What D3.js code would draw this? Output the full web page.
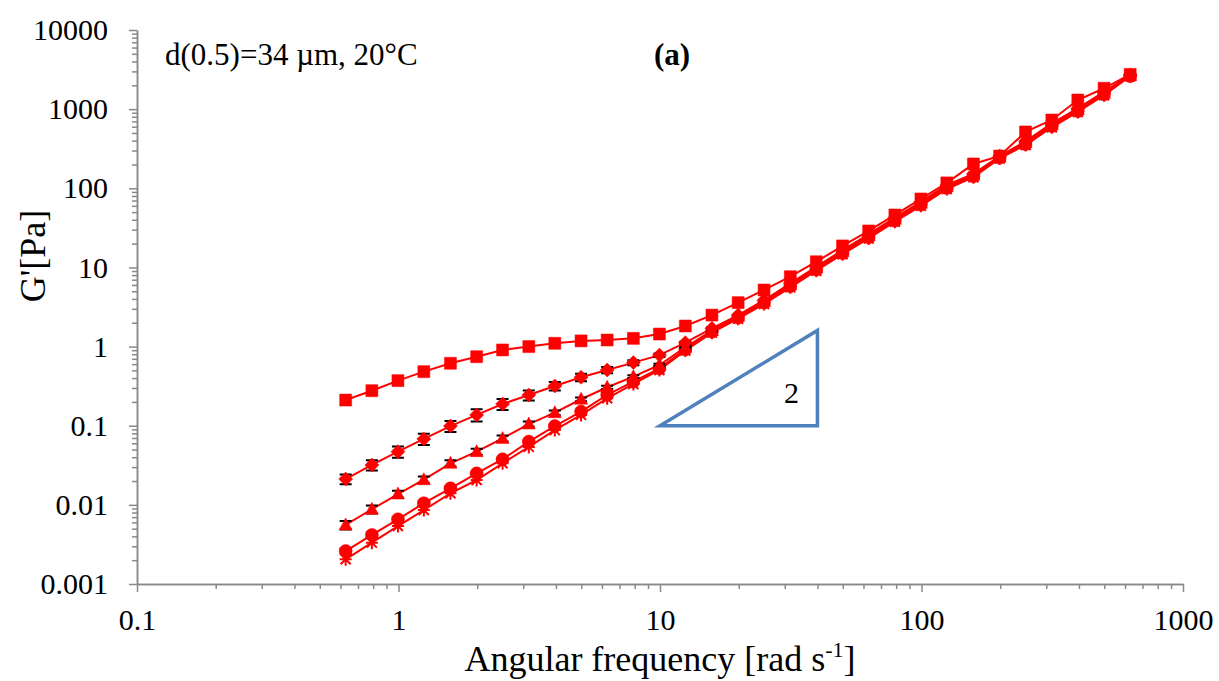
<!DOCTYPE html>
<html>
<head>
<meta charset="utf-8">
<script src="https://cdn.jsdelivr.net/npm/d3@7"></script>
<style>
body { margin: 0; background: #fff; }
</style>
</head>
<body>
<script>
var width = 1219,
    height = 681;
var plot = { left: 137, right: 1183, top: 30, bottom: 584 };
var serif = "Liberation Serif";

// angular frequency [rad/s]
var freq = [0.628, 0.791, 0.995, 1.25, 1.58, 1.99, 2.5, 3.15, 3.96, 4.99,
            6.28, 7.91, 9.95, 12.5, 15.8, 19.9, 25, 31.5, 39.6, 49.9,
            62.8, 79.1, 99.5, 125, 158, 199, 250, 315, 396, 499, 628];

// G' [Pa] for each sample
var gSquare = [0.211, 0.277, 0.371, 0.482, 0.615, 0.745, 0.906, 1.0, 1.10, 1.18,
               1.21, 1.27, 1.44, 1.82, 2.5, 3.59, 5.19, 7.64, 11.8, 18.7,
               28.9, 46.0, 73.3, 117, 203, 256, 515, 729, 1305, 1836, 2750];
var gDiamond = [0.0212, 0.0319, 0.047, 0.068, 0.099, 0.137, 0.188, 0.244, 0.318, 0.41,
                0.506, 0.627, 0.78, 1.12, 1.7, 2.5, 3.85, 6.3, 10.2, 16.5,
                26.2, 42.5, 67.5, 110, 152, 255, 392, 660, 1020, 1650, 2700];
var gTriangle = [0.00557, 0.0088, 0.0137, 0.0208, 0.0335, 0.047, 0.069, 0.105, 0.146, 0.216,
                 0.306, 0.417, 0.585, 0.98, 1.59, 2.4, 3.7, 6.0, 9.8, 15.8,
                 25.0, 40.6, 64.7, 105, 147, 249, 374, 631, 977, 1585, 2650];
var gCircle = [0.00261, 0.00417, 0.00657, 0.0105, 0.0162, 0.025, 0.0377, 0.063, 0.099, 0.151,
               0.245, 0.36, 0.53, 0.92, 1.54, 2.32, 3.58, 5.8, 9.4, 15.2,
               24.0, 39.0, 62.0, 101, 142, 243, 362, 610, 945, 1540, 2620];
var gStar = [0.00205, 0.00333, 0.0054, 0.0086, 0.014, 0.0206, 0.0335, 0.054, 0.088, 0.137,
             0.222, 0.337, 0.506, 0.89, 1.5, 2.25, 3.45, 5.6, 9.1, 14.7,
             23.2, 37.8, 60.0, 98, 138, 238, 352, 590, 920, 1500, 2600];

// standard deviations (error bars)
var sdDiamond = [0.003, 0.0048, 0.0075, 0.011, 0.016, 0.024, 0.030, 0.035, 0.040, 0.045,
                 0.045, 0.045, 0.04, 0.04, 0.05, 0, 0, 0, 0, 0, 0, 0, 0, 0, 0, 0, 0, 0, 0, 0, 0];
var sdTriangle = [0.0007, 0.001, 0.0014, 0.002, 0.003, 0.004, 0.006, 0.008, 0.01, 0.012,
                  0.014, 0.016, 0.02, 0.03, 0.04, 0, 0, 0, 0, 0, 0, 0, 0, 0, 0, 0, 0, 0, 0, 0, 0];
var sdCircle = [0.0002, 0.0003, 0.0004, 0.0006, 0.0008, 0.001, 0.0015, 0.002, 0.003, 0.004,
                0.006, 0.008, 0.01, 0.02, 0.03, 0, 0, 0, 0, 0, 0, 0, 0, 0, 0, 0, 0, 0, 0, 0, 0];

var xTicks = [0.1, 1, 10, 100, 1000];
var yTicks = [0.001, 0.01, 0.1, 1, 10, 100, 1000, 10000];
var slopeTri = [[10, 0.1], [40, 0.1], [40, 1.6]];

var series = [
    { values: gStar, sd: null, marker: "star" },
    { values: gCircle, sd: sdCircle, marker: "circle" },
    { values: gTriangle, sd: sdTriangle, marker: "triangle" },
    { values: gDiamond, sd: sdDiamond, marker: "diamond" },
    { values: gSquare, sd: null, marker: "square" }
];

function minors(lo, hi) {
    var out = [];
    for (var d = lo; d < hi; d++) {
        for (var k = 2; k <= 9; k++) out.push(k * Math.pow(10, d));
    }
    return out;
}

var markerPath = {
    square: "M-6,-6H6V6H-6Z",
    diamond: "M0,-7L7,0L0,7L-7,0Z",
    triangle: "M0,-7L6.5,5L-6.5,5Z",
    circle: "M6.5,0A6.5,6.5 0 1,1 -6.5,0A6.5,6.5 0 1,1 6.5,0Z",
    star: "M-5,-5L5,5M-5,5L5,-5M0,-6.5L0,6.5M-6,0L6,0"
};

var svg = d3.select("body").append("svg")
    .attr("width", width)
    .attr("height", height)
    .attr("font-family", serif);

var x = d3.scaleLog().domain([0.1, 1000]).range([plot.left, plot.right]);
var y = d3.scaleLog().domain([0.001, 10000]).range([plot.bottom, plot.top]);

// axes: minor ticks first, then major with labels
var axisColor = "#898989";
svg.append("g")
    .attr("transform", "translate(0," + plot.bottom + ")")
    .call(d3.axisBottom(x).tickValues(minors(-1, 3)).tickSize(5).tickSizeOuter(0).tickFormat(""));
svg.append("g")
    .attr("transform", "translate(0," + plot.bottom + ")")
    .call(d3.axisBottom(x).tickValues(xTicks).tickSize(8).tickSizeOuter(0).tickPadding(17)
        .tickFormat(function (d) { return String(d); }));
svg.append("g")
    .attr("transform", "translate(" + plot.left + ",0)")
    .call(d3.axisLeft(y).tickValues(minors(-3, 4)).tickSize(5).tickSizeOuter(0).tickFormat(""));
svg.append("g")
    .attr("transform", "translate(" + plot.left + ",0)")
    .call(d3.axisLeft(y).tickValues(yTicks).tickSize(8).tickSizeOuter(0).tickPadding(21)
        .tickFormat(function (d) { return String(d); }));

svg.selectAll("g").attr("font-family", serif);
svg.selectAll(".domain, .tick line")
    .attr("stroke", axisColor)
    .attr("stroke-width", 1.5);
svg.selectAll(".tick text")
    .attr("font-size", 30)
    .attr("fill", "#000");

// slope triangle
svg.append("path")
    .attr("d", d3.line().x(function (d) { return x(d[0]); }).y(function (d) { return y(d[1]); })(slopeTri) + "Z")
    .attr("fill", "none")
    .attr("stroke", "#4F81BD")
    .attr("stroke-width", 3.5);
svg.append("text")
    .attr("x", x(31.8))
    .attr("y", y(0.26))
    .attr("dy", "0.35em")
    .attr("text-anchor", "middle")
    .attr("font-size", 30)
    .text("2");

var line = d3.line()
    .x(function (d) { return x(d[0]); })
    .y(function (d) { return y(d[1]); });

series.forEach(function (s) {
    var pts = freq.map(function (f, i) { return [f, s.values[i]]; });
    var g = svg.append("g");
    g.append("path")
        .attr("d", line(pts))
        .attr("fill", "none")
        .attr("stroke", "#FF0000")
        .attr("stroke-width", 2);
    if (s.sd) {
        pts.forEach(function (p, i) {
            var sd = s.sd[i];
            if (!sd) return;
            var cx = x(p[0]), y1 = y(p[1] + sd), y2 = y(Math.max(p[1] - sd, 1e-6));
            g.append("path")
                .attr("d", "M" + cx + "," + y1 + "V" + y2 +
                    "M" + (cx - 6) + "," + y1 + "H" + (cx + 6) +
                    "M" + (cx - 6) + "," + y2 + "H" + (cx + 6))
                .attr("stroke", "#000")
                .attr("stroke-width", 2)
                .attr("fill", "none");
        });
    }
    g.selectAll("path.mk")
        .data(pts)
        .enter().append("path")
        .attr("class", "mk")
        .attr("transform", function (d) { return "translate(" + x(d[0]) + "," + y(d[1]) + ")"; })
        .attr("d", markerPath[s.marker])
        .attr("fill", s.marker === "star" ? "none" : "#FF0000")
        .attr("stroke", "#FF0000")
        .attr("stroke-width", s.marker === "star" ? 2 : 0.5);
});

// annotations
svg.append("text")
    .attr("x", 165)
    .attr("y", 65)
    .attr("font-size", 31)
    .text("d(0.5)=34 \u00b5m, 20\u00b0C");
svg.append("text")
    .attr("x", 672)
    .attr("y", 65)
    .attr("text-anchor", "middle")
    .attr("font-size", 31)
    .attr("font-weight", "bold")
    .text("(a)");

// axis titles
var xt = svg.append("text")
    .attr("x", 660)
    .attr("y", 671)
    .attr("text-anchor", "middle")
    .attr("font-size", 36);
xt.append("tspan").text("Angular frequency [rad s");
xt.append("tspan").attr("dy", -14).attr("font-size", 22).text("-1");
xt.append("tspan").attr("dy", 14).text("]");

svg.append("text")
    .attr("transform", "translate(45,256) rotate(-90)")
    .attr("text-anchor", "middle")
    .attr("font-size", 36)
    .text("G'[Pa]");

svg.selectAll("text").attr("font-family", serif);
</script>
</body>
</html>
